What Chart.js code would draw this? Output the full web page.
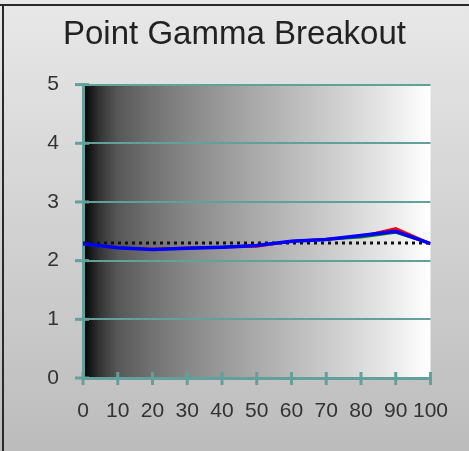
<!DOCTYPE html>
<html>
<head>
<meta charset="utf-8">
<script src="https://cdn.jsdelivr.net/npm/chart.js@4.4.0/dist/chart.umd.min.js"></script>
<style>
  html, body { margin: 0; padding: 0; background: #fff; }
  #chart { display: block; }
</style>
</head>
<body>
<canvas id="chart" width="469" height="451"></canvas>
<script>
// stimulus levels (% IRE)
const levels = [0, 10, 20, 30, 40, 50, 60, 70, 80, 90, 100];
// measured point gamma per channel
const redGamma   = [2.28, 2.22, 2.20, 2.22, 2.23, 2.24, 2.33, 2.37, 2.41, 2.55, 2.29];
const greenGamma = [2.28, 2.22, 2.19, 2.21, 2.23, 2.26, 2.33, 2.36, 2.40, 2.48, 2.29];
const blueGamma  = [2.29, 2.22, 2.19, 2.21, 2.23, 2.26, 2.33, 2.36, 2.43, 2.50, 2.29];
// target gamma
const targetGamma = [2.3, 2.3, 2.3, 2.3, 2.3, 2.3, 2.3, 2.3, 2.3, 2.3, 2.3];
const yTicks = [0, 1, 2, 3, 4, 5];

const teal = '#64a09b';
const fontFamily = '"Liberation Sans", Arial, sans-serif';

const toPoints = vals => vals.map((v, i) => ({ x: levels[i], y: v }));

// backgrounds, border and the little crossing tick marks
const decor = {
  id: 'decor',
  beforeDraw(chart) {
    const { ctx, width, height, chartArea: a } = chart;
    ctx.save();
    const bg = ctx.createLinearGradient(0, 0, 0, height);
    bg.addColorStop(0, '#e8e8e8');
    bg.addColorStop(1, '#bcbcbc');
    ctx.fillStyle = bg;
    ctx.fillRect(0, 0, width, height);
    ctx.fillStyle = '#2a2a2a';
    ctx.fillRect(0, 4, width, 2);
    ctx.fillRect(2, 4, 2, height - 4);

    const g = ctx.createLinearGradient(a.left, 0, a.right, 0);
    g.addColorStop(0, '#000000');
    g.addColorStop(0.02, '#161616');
    g.addColorStop(0.05, '#363636');
    g.addColorStop(0.1, '#575757');
    g.addColorStop(0.2, '#727272');
    g.addColorStop(0.3, '#878787');
    g.addColorStop(0.45, '#a2a2a2');
    g.addColorStop(0.6, '#bababa');
    g.addColorStop(0.75, '#d2d2d2');
    g.addColorStop(0.9, '#ececec');
    g.addColorStop(1, '#ffffff');
    ctx.fillStyle = g;
    ctx.fillRect(a.left, a.top, a.right - a.left, a.bottom - a.top);
    ctx.restore();
  },
  afterDraw(chart) {
    const { ctx, chartArea: a, scales } = chart;
    ctx.save();
    ctx.strokeStyle = teal;
    ctx.lineWidth = 3;
    yTicks.forEach(v => {
      const y = scales.y.getPixelForValue(v);
      ctx.beginPath();
      ctx.moveTo(a.left - 8, y);
      ctx.lineTo(a.left + 6, y);
      ctx.stroke();
    });
    levels.forEach(v => {
      const x = scales.x.getPixelForValue(v);
      ctx.beginPath();
      ctx.moveTo(x, a.bottom - 6);
      ctx.lineTo(x, a.bottom + 7);
      ctx.stroke();
    });
    ctx.restore();
  }
};

new Chart(document.getElementById('chart'), {
  type: 'line',
  data: {
    datasets: [
      { label: 'Target', data: toPoints(targetGamma), borderColor: '#111', borderWidth: 3, borderDash: [3, 4], pointRadius: 0, order: 4 },
      { label: 'Red', data: toPoints(redGamma), borderColor: '#ff0000', borderWidth: 2.5, pointRadius: 0, order: 3 },
      { label: 'Green', data: toPoints(greenGamma), borderColor: '#008000', borderWidth: 2.5, pointRadius: 0, order: 2 },
      { label: 'Blue', data: toPoints(blueGamma), borderColor: '#0000ff', borderWidth: 3.5, pointRadius: 0, order: 1 }
    ]
  },
  options: {
    responsive: false,
    animation: false,
    layout: { padding: 0 },
    plugins: {
      legend: { display: false },
      tooltip: { enabled: false },
      title: {
        display: true,
        text: 'Point Gamma Breakout',
        color: '#222',
        font: { family: fontFamily, size: 33, weight: 'normal', lineHeight: 1.2 },
        padding: { top: 15, bottom: 30 }
      }
    },
    scales: {
      x: {
        type: 'linear',
        min: 0,
        max: 100,
        afterBuildTicks: s => { s.ticks = levels.map(v => ({ value: v })); },
        afterFit: s => { s.height = 73; },
        grid: { display: false, drawTicks: false },
        border: { display: true, color: teal, width: 3 },
        ticks: {
          padding: 21,
          maxRotation: 0,
          autoSkip: false,
          color: '#333',
          font: { family: fontFamily, size: 21 }
        }
      },
      y: {
        min: 0,
        max: 5,
        afterBuildTicks: s => { s.ticks = yTicks.map(v => ({ value: v })); },
        afterFit: s => { s.width = 83; },
        grid: { color: teal, lineWidth: 2, drawTicks: false },
        border: { display: true, color: teal, width: 3 },
        ticks: {
          padding: 24,
          color: '#333',
          font: { family: fontFamily, size: 21 }
        }
      },
      // empty right-hand gutter so the title stays centred on the canvas
      gutter: {
        type: 'linear',
        position: 'right',
        display: true,
        afterFit: s => { s.width = 34; },
        grid: { display: false, drawTicks: false },
        border: { display: false },
        ticks: { display: false }
      }
    }
  },
  plugins: [decor]
});
</script>
</body>
</html>
